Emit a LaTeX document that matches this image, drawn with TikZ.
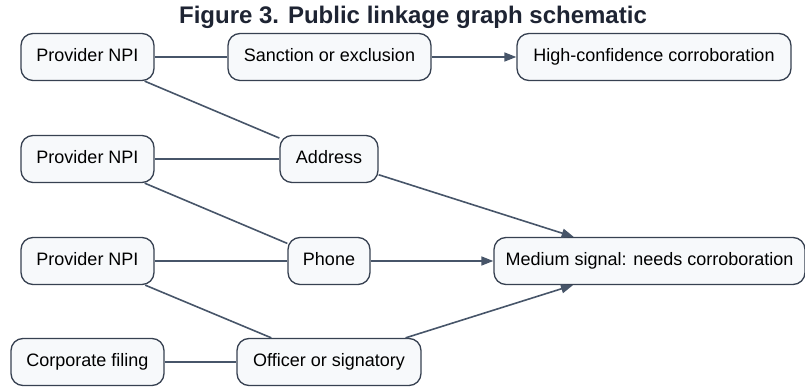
\documentclass[tikz,border=0pt]{standalone}
\usepackage{fontspec}
\setmainfont{Liberation Sans}
\usetikzlibrary{arrows.meta}

\definecolor{LinkEdge}{RGB}{71,85,105}
\definecolor{LinkBorder}{RGB}{55,65,81}
\definecolor{LinkFill}{RGB}{247,249,251}
\definecolor{LinkTitle}{RGB}{30,36,51}

\begin{document}
\begin{tikzpicture}[x=1pt,y=-1pt,
    entity/.style={draw=LinkBorder,fill=LinkFill,line width=1.3pt,rounded corners=12pt,
      minimum height=47pt,inner sep=0pt,text height=0.9em,text depth=0.04em,
      font=\fontsize{18}{21}\selectfont},
    link/.style={LinkEdge,line width=1.6pt},
    flow/.style={link,-{Triangle[length=12pt,width=9pt]}}]
  \useasboundingbox (0,0) rectangle (805,387);
  \node[font=\bfseries\fontsize{24}{27}\selectfont,text=LinkTitle] (title) at (413,17)
    {Figure 3. Public linkage graph schematic};

  % sources, left column
  \node[entity,minimum width=133pt] (npiA) at (87.5,57) {Provider NPI};
  \node[entity,minimum width=133pt] (npiB) at (87.5,159) {Provider NPI};
  \node[entity,minimum width=133pt] (npiC) at (87.5,261) {Provider NPI};
  \node[entity,minimum width=153pt] (filing) at (87.5,362) {Corporate filing};

  % shared attributes, middle column
  \node[entity,minimum width=203pt] (sanction) at (329.5,57) {Sanction or exclusion};
  \node[entity,minimum width=98pt] (address) at (329,159) {Address};
  \node[entity,minimum width=82pt] (phone) at (329,261) {Phone};
  \node[entity,minimum width=184pt] (officer) at (329,362) {Officer or signatory};

  % outcomes
  \node[entity,minimum width=274pt] (high) at (654,57) {High-confidence corroboration};
  \node[entity,minimum width=311pt] (medium) at (649.5,261) {Medium signal: needs corroboration};

  \draw[link] (npiA) -- (sanction);
  \draw[link] (npiA) -- (address);
  \draw[link] (npiB) -- (address);
  \draw[link] (npiB) -- (phone);
  \draw[link] (npiC) -- (phone);
  \draw[link] (npiC) -- (officer);
  \draw[link] (filing) -- (officer);

  \draw[flow] (sanction) -- (high);
  \draw[flow] (address) -- (medium);
  \draw[flow] (phone) -- (medium);
  \draw[flow] (officer) -- (medium);
\end{tikzpicture}
\end{document}
